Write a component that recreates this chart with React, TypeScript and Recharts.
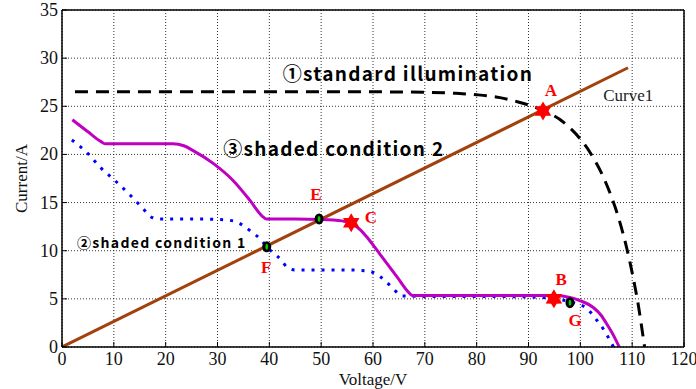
import {
  ComposedChart,
  Line,
  Scatter,
  XAxis,
  YAxis,
  CartesianGrid,
  ReferenceLine,
} from 'recharts';

// ticks
const voltageTicks = [0, 10, 20, 30, 40, 50, 60, 70, 80, 90, 100, 110, 120];
const currentTicks = [0, 5, 10, 15, 20, 25, 30, 35];

// v = voltage (V), i = current (A)
const loadLine = [
  { v: 0, i: 0 },
  { v: 109.2, i: 29 },
];

const standardCurve = [
  { v: 2.5, i: 26.5 },
  { v: 20, i: 26.5 },
  { v: 40, i: 26.5 },
  { v: 60, i: 26.5 },
  { v: 70, i: 26.45 },
  { v: 76, i: 26.35 },
  { v: 80, i: 26.2 },
  { v: 84.5, i: 25.9 },
  { v: 88, i: 25.45 },
  { v: 91, i: 24.95 },
  { v: 93, i: 24.5 },
  { v: 96, i: 23.65 },
  { v: 98, i: 22.75 },
  { v: 100, i: 21.6 },
  { v: 102, i: 20.1 },
  { v: 104.4, i: 17.7 },
  { v: 106, i: 15.6 },
  { v: 107.5, i: 13.2 },
  { v: 108.8, i: 10.6 },
  { v: 110.2, i: 7.2 },
  { v: 111.2, i: 4.3 },
  { v: 112.1, i: 1.1 },
  { v: 112.4, i: 0 },
];

const shaded2 = [
  { v: 2, i: 23.6 },
  { v: 5, i: 22.35 },
  { v: 7.6, i: 21.3 },
  { v: 8.3, i: 21.1 },
  { v: 15, i: 21.1 },
  { v: 21.4, i: 21.1 },
  { v: 23.5, i: 20.9 },
  { v: 25.3, i: 20.4 },
  { v: 29.1, i: 19.1 },
  { v: 33, i: 17.3 },
  { v: 36.3, i: 15.2 },
  { v: 38.6, i: 13.6 },
  { v: 39.4, i: 13.3 },
  { v: 45, i: 13.3 },
  { v: 50, i: 13.25 },
  { v: 54, i: 13.1 },
  { v: 56, i: 12.8 },
  { v: 57.5, i: 12.2 },
  { v: 59, i: 11.3 },
  { v: 61.4, i: 9.6 },
  { v: 64.6, i: 7.3 },
  { v: 67, i: 5.6 },
  { v: 67.6, i: 5.35 },
  { v: 80, i: 5.35 },
  { v: 95, i: 5.35 },
  { v: 98, i: 5.15 },
  { v: 100, i: 4.8 },
  { v: 102.5, i: 4.1 },
  { v: 104, i: 3.3 },
  { v: 105.2, i: 2.3 },
  { v: 106.5, i: 1.1 },
  { v: 107.5, i: 0 },
];

const shaded1 = [
  { v: 1.9, i: 21.5 },
  { v: 4.8, i: 20.2 },
  { v: 7.5, i: 18.6 },
  { v: 10.2, i: 17.3 },
  { v: 13.1, i: 15.8 },
  { v: 15.6, i: 14.4 },
  { v: 17.2, i: 13.5 },
  { v: 19, i: 13.3 },
  { v: 25, i: 13.3 },
  { v: 30, i: 13.25 },
  { v: 33, i: 13.1 },
  { v: 35, i: 12.6 },
  { v: 36.7, i: 11.9 },
  { v: 38.3, i: 11.2 },
  { v: 39.5, i: 10.4 },
  { v: 40.7, i: 9.8 },
  { v: 42.2, i: 9.1 },
  { v: 43.4, i: 8.3 },
  { v: 45, i: 8.0 },
  { v: 50, i: 8.0 },
  { v: 55, i: 8.0 },
  { v: 59, i: 7.9 },
  { v: 61.4, i: 7.3 },
  { v: 62.7, i: 6.7 },
  { v: 64, i: 6.0 },
  { v: 65.6, i: 5.3 },
  { v: 70, i: 5.25 },
  { v: 80, i: 5.25 },
  { v: 90, i: 5.2 },
  { v: 95, i: 5.0 },
  { v: 98, i: 4.7 },
  { v: 101, i: 4.1 },
  { v: 103.3, i: 2.7 },
  { v: 104.4, i: 1.9 },
  { v: 106.1, i: 0.3 },
  { v: 106.4, i: 0 },
];

// operating points
const starPoints = [
  { v: 92.8, i: 24.5 },
  { v: 55.8, i: 12.9 },
  { v: 94.9, i: 5.0 },
];

const crossingPoints = [
  { v: 49.6, i: 13.3 },
  { v: 39.5, i: 10.4 },
  { v: 98, i: 4.6 },
];

const pointLetters = [
  { v: 94.3, i: 26.6, text: 'A' },
  { v: 96.3, i: 7.0, text: 'B' },
  { v: 59.6, i: 13.4, text: 'C' },
  { v: 49.0, i: 15.8, text: 'E' },
  { v: 39.4, i: 8.3, text: 'F' },
  { v: 99.0, i: 2.8, text: 'G' },
];

const bigTitles = [
  { v: 42.6, i: 28.5, text: '①standard illumination' },
  { v: 31.1, i: 20.7, text: '③shaded condition 2' },
];

const smallTitles = [{ v: 2.9, i: 10.9, text: '②shaded condition 1' }];

const curveNames = [{ v: 104.4, i: 26.1, text: 'Curve1' }];

const serif = '"Liberation Serif", "Times New Roman", serif';
const gothic = '"Noto Sans CJK JP", "Noto Sans", sans-serif';

function Hexagram(props: any) {
  const { cx, cy } = props;
  const r = 9.5;
  const pts: string[] = [];
  for (let k = 0; k < 12; k++) {
    const a = (Math.PI / 6) * k - Math.PI / 2;
    const rr = k % 2 === 0 ? r : r * 0.58;
    pts.push(`${cx + rr * Math.cos(a)},${cy + rr * Math.sin(a)}`);
  }
  return <polygon points={pts.join(' ')} fill="#ff0000" />;
}

function CrossDot(props: any) {
  const { cx, cy } = props;
  return (
    <g>
      <ellipse cx={cx} cy={cy} rx={4.5} ry={5.5} fill="#000" />
      <ellipse cx={cx} cy={cy} rx={1.4} ry={3} fill="#00d000" />
    </g>
  );
}

const textShape =
  (style: { fontFamily: string; fontSize: number; fill: string; anchor: 'start' | 'middle'; bold: boolean; spacing?: number }) =>
  (props: any) => (
    <text
      x={props.cx}
      y={props.cy}
      textAnchor={style.anchor}
      dominantBaseline="central"
      fill={style.fill}
      fontFamily={style.fontFamily}
      fontSize={style.fontSize}
      fontWeight={style.bold ? 'bold' : 'normal'}
      letterSpacing={style.spacing ?? 0}
    >
      {props.payload.text}
    </text>
  );

const LetterShape = textShape({ fontFamily: serif, fontSize: 17, fill: '#ff0000', anchor: 'middle', bold: true });
const BigTitleShape = textShape({ fontFamily: gothic, fontSize: 19, fill: '#000', anchor: 'start', bold: true, spacing: 1.3 });
const SmallTitleShape = textShape({ fontFamily: gothic, fontSize: 14, fill: '#000', anchor: 'start', bold: true, spacing: 1.3 });
const CurveNameShape = textShape({ fontFamily: serif, fontSize: 17, fill: '#222', anchor: 'start', bold: false });

function XTick(props: any) {
  const { x, y, payload } = props;
  return (
    <text x={x} y={y} dy={13} textAnchor="middle" fontFamily={serif} fontSize={18} fill="#111">
      {payload.value}
    </text>
  );
}

function YTick(props: any) {
  const { x, y, payload } = props;
  return (
    <text x={x} y={y} dy={6} textAnchor="end" fontFamily={serif} fontSize={18} fill="#111">
      {payload.value}
    </text>
  );
}

export default function App() {
  return (
    <div style={{ position: 'absolute', left: 0, top: 0, width: 696, height: 389, background: '#fff' }}>
      <ComposedChart width={696} height={389} margin={{ top: 10, right: 12, left: 0, bottom: 0 }}>
        <CartesianGrid stroke="#000" strokeDasharray="1 2" strokeWidth={0.8} />
        <XAxis
          dataKey="v"
          type="number"
          domain={[0, 120]}
          ticks={voltageTicks}
          allowDataOverflow
          height={42}
          tick={<XTick />}
          tickSize={-5}
          tickMargin={10}
          axisLine={{ stroke: '#000', strokeWidth: 1.5 }}
          tickLine={{ stroke: '#000' }}
          label={{ value: 'Voltage/V', position: 'insideBottom', offset: 4, style: { fontSize: 17, fill: '#111', fontFamily: serif } }}
        />
        <YAxis
          dataKey="i"
          type="number"
          domain={[0, 35]}
          ticks={currentTicks}
          allowDataOverflow
          width={62}
          tick={<YTick />}
          tickSize={-5}
          tickMargin={9}
          axisLine={{ stroke: '#000', strokeWidth: 1.5 }}
          tickLine={{ stroke: '#000' }}
          label={{
            value: 'Current/A',
            angle: -90,
            position: 'insideLeft',
            offset: 21,
            style: { textAnchor: 'middle', fontSize: 17, fill: '#111', fontFamily: serif },
          }}
        />
        <ReferenceLine y={35} stroke="#000" strokeWidth={1.5} />
        <ReferenceLine x={120} stroke="#000" strokeWidth={1.5} />

        <Line data={loadLine} dataKey="i" type="linear" stroke="#a3410c" strokeWidth={3} dot={false} isAnimationActive={false} />
        <Line
          data={shaded1}
          dataKey="i"
          type="monotone"
          stroke="#0000ff"
          strokeWidth={3}
          strokeDasharray="3 7"
          dot={false}
          isAnimationActive={false}
        />
        <Line
          data={standardCurve}
          dataKey="i"
          type="monotone"
          stroke="#000"
          strokeWidth={3}
          strokeDasharray="13 8"
          dot={false}
          isAnimationActive={false}
        />
        <Line data={shaded2} dataKey="i" type="monotone" stroke="#c000c0" strokeWidth={3} dot={false} isAnimationActive={false} />

        <Scatter data={starPoints} dataKey="i" shape={Hexagram} isAnimationActive={false} />
        <Scatter data={crossingPoints} dataKey="i" shape={CrossDot} isAnimationActive={false} />
        <Scatter data={pointLetters} dataKey="i" shape={LetterShape} isAnimationActive={false} />
        <Scatter data={bigTitles} dataKey="i" shape={BigTitleShape} isAnimationActive={false} />
        <Scatter data={smallTitles} dataKey="i" shape={SmallTitleShape} isAnimationActive={false} />
        <Scatter data={curveNames} dataKey="i" shape={CurveNameShape} isAnimationActive={false} />
      </ComposedChart>
    </div>
  );
}
